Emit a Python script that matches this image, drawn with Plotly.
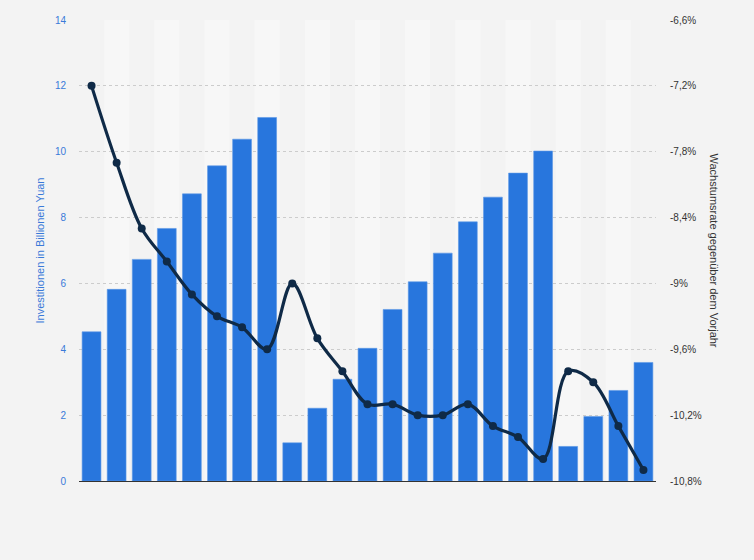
import plotly.graph_objects as go

# Data (23 periods, no category labels shown)
periods = list(range(23))
investment = [4.53, 5.82, 6.73, 7.67, 8.72, 9.57, 10.38, 11.04,
              1.16, 2.21, 3.09, 4.03, 5.21, 6.05, 6.92, 7.87, 8.62, 9.35, 10.02,
              1.05, 1.96, 2.75, 3.60]
growth = [-7.2, -7.9, -8.5, -8.8, -9.1, -9.3, -9.4, -9.6,
          -9.0, -9.5, -9.8, -10.1, -10.1, -10.2, -10.2, -10.1, -10.3, -10.4, -10.6,
          -9.8, -9.9, -10.3, -10.7]

left_ticks = [0, 2, 4, 6, 8, 10, 12, 14]
right_tickvals = [-6.6, -7.2, -7.8, -8.4, -9.0, -9.6, -10.2, -10.8]
right_ticktext = ["-6,6%", "-7,2%", "-7,8%", "-8,4%", "-9%", "-9,6%", "-10,2%", "-10,8%"]

BAR = "#2876dd"
LINE = "#0f2a47"
BG = "#f3f3f3"
STRIPE = "#f7f7f7"
FONT = "Liberation Sans, Arial, sans-serif"

fig = go.Figure()
fig.add_trace(go.Bar(
    x=periods, y=investment, marker=dict(color=BAR, line=dict(color="#5b97e6", width=0.6)),
    yaxis="y", name="Investitionen", hoverinfo="y"))
fig.add_trace(go.Scatter(
    x=periods, y=growth, yaxis="y2", mode="lines+markers",
    line=dict(color=LINE, width=3.2, shape="spline", smoothing=1.0),
    marker=dict(color=LINE, size=8), name="Wachstumsrate"))

shapes = []
for i in periods:
    if i % 2 == 1:
        shapes.append(dict(type="rect", xref="x", yref="paper", x0=i - 0.5, x1=i + 0.5,
                           y0=0, y1=1, fillcolor=STRIPE, line=dict(width=0), layer="below"))

fig.update_layout(
    width=754, height=560,
    margin=dict(l=79, r=98, t=20, b=79),
    paper_bgcolor=BG, plot_bgcolor=BG,
    showlegend=False, bargap=0.25,
    font=dict(family=FONT, size=10, color="#333333"),
    shapes=shapes,
    xaxis=dict(range=[-0.5, 22.5], showticklabels=False, ticks="", showgrid=False,
               zeroline=False, showline=True, linecolor="#333333", linewidth=1.2),
    yaxis=dict(range=[0, 14], tickvals=left_ticks, showgrid=True, gridcolor="#cccccc",
               griddash="dot", gridwidth=1, zeroline=False, ticks="", ticklabelstandoff=12,
               tickfont=dict(color="#3a7ad9", size=10, family=FONT),
               title=dict(text="Investitionen in Billionen Yuan", standoff=8,
                          font=dict(color="#3a7ad9", size=11, family=FONT))),
    yaxis2=dict(range=[-10.8, -6.6], overlaying="y", side="right", tickvals=right_tickvals,
                ticktext=right_ticktext, showgrid=False, zeroline=False, ticks="",
                ticklabelstandoff=13,
                tickfont=dict(color="#333333", size=10, family=FONT)),
    annotations=[dict(text="Wachstumsrate gegenüber dem Vorjahr", textangle=90,
                      xref="paper", yref="paper", x=1.0, y=0.5, xshift=58,
                      xanchor="center", yanchor="middle", showarrow=False,
                      font=dict(color="#333333", size=11, family=FONT))],
)

fig.write_html("out.html", config={"displayModeBar": False},
               post_script="document.body.style.margin='0';")
